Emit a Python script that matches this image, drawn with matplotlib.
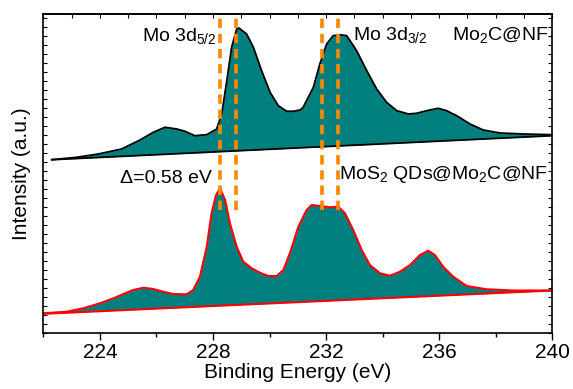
import matplotlib
matplotlib.use("Agg")
import matplotlib.pyplot as plt
import numpy as np

plt.rcParams['font.family'] = ['Liberation Sans', 'DejaVu Sans']
plt.rcParams['mathtext.fontset'] = 'custom'
plt.rcParams['mathtext.rm'] = 'Liberation Sans'
plt.rcParams['mathtext.it'] = 'Liberation Sans'

# Mo2C@NF spectrum (binding energy in eV, intensity a.u.)
e_top = [222.30, 223.18, 223.95, 224.77, 225.42, 225.89, 226.30, 226.72, 227.01,
         227.36, 227.78, 228.13, 228.31, 228.49, 228.66, 228.84, 228.92, 229.19,
         229.43, 229.72, 230.02, 230.31, 230.61, 230.84, 231.08, 231.19, 231.55,
         231.78, 232.02, 232.25, 232.49, 232.73, 233.08, 233.44, 233.79, 234.14,
         234.50, 234.91, 235.20, 235.56, 235.97, 236.26, 236.62, 237.09, 237.56,
         238.15, 238.97, 240.0]
i_top = [173.6, 176.0, 179.3, 184.3, 193.3, 201.0, 206.0, 204.3, 202.0,
         197.6, 198.6, 204.3, 219.3, 252.6, 286.0, 304.3, 305.3, 299.3,
         286.0, 262.6, 241.0, 227.6, 222.0, 222.0, 223.3, 226.0, 246.0,
         269.3, 289.3, 297.6, 298.6, 297.6, 282.6, 262.6, 244.3, 231.0,
         222.6, 219.3, 220.0, 222.6, 225.0, 222.6, 217.6, 209.3, 203.3,
         200.3, 199.3, 198.6]
bg_top_e = [222.30, 240.0]
bg_top_i = [173.6, 197.6]

# MoS2 QDs@Mo2C@NF spectrum
e_bot = [222.0, 222.83, 223.41, 224.0, 224.48, 224.89, 225.18, 225.54, 225.89,
         226.24, 226.60, 227.07, 227.30, 227.54, 227.78, 227.95, 228.11, 228.25,
         228.43, 228.60, 228.84, 229.07, 229.37, 229.66, 229.96, 230.25, 230.49,
         230.72, 231.02, 231.31, 231.49, 231.78, 232.14, 232.43, 232.67, 232.96,
         233.26, 233.55, 233.91, 234.26, 234.61, 234.97, 235.32, 235.61, 235.85,
         236.14, 236.50, 236.97, 237.68, 238.62, 240.0]
i_bot = [20.0, 21.6, 25.0, 30.0, 35.0, 40.0, 43.3, 45.6, 44.3,
         41.6, 39.3, 39.0, 43.3, 56.6, 86.6, 120.0, 138.3, 145.0,
         133.3, 110.0, 86.6, 71.6, 65.0, 60.6, 57.3, 57.3, 63.3,
         80.0, 106.6, 123.3, 128.3, 127.3, 126.0, 126.6, 120.0, 103.3,
         83.3, 68.3, 60.0, 57.6, 61.6, 68.3, 78.3, 82.6, 78.3,
         66.6, 56.6, 47.3, 44.0, 42.8, 42.8]
bg_bot_e = [222.0, 240.0]
bg_bot_i = [19.5, 42.8]

# peak positions of the dashed guides
peaks = [228.25, 228.83, 231.85, 232.43]
guide_low = 123.3

fig = plt.figure(figsize=(5.73, 3.89), dpi=100)
ax = fig.add_axes([43.3 / 573, 1 - 333.3 / 389, (552.3 - 43.3) / 573, (333.3 - 14) / 389])

teal = '#007F7F'
e_top = np.array(e_top)
e_bot = np.array(e_bot)
ax.fill_between(e_top, np.interp(e_top, bg_top_e, bg_top_i), i_top, color=teal, lw=0)
ax.plot(e_top, i_top, color='black', lw=1.3)
ax.plot(bg_top_e, bg_top_i, color='black', lw=1.3)

ax.fill_between(e_bot, np.interp(e_bot, bg_bot_e, bg_bot_i), i_bot, color=teal, lw=0)
ax.plot(e_bot, i_bot, color='red', lw=1.5)
ax.plot(bg_bot_e, bg_bot_i, color='red', lw=1.5)

for p in peaks:
    ax.plot([p, p], [guide_low, 319.3], color='#FF8800', lw=2.6,
            ls=(0, (2.6, 1.6)), zorder=5, solid_capstyle='butt')

ax.set_xlim(222, 240)
ax.set_ylim(0, 319.3)

fs = 14
ax.text(228.12, 292.6, 'Mo 3d$_{5/2}$', fontsize=fs, ha='right', va='baseline')
ax.text(232.96, 293.3, 'Mo 3d$_{3/2}$', fontsize=fs, ha='left', va='baseline')
ax.text(239.86, 293.3, 'Mo$_2$C@NF', fontsize=fs, ha='right', va='baseline')
ax.text(239.86, 154.3, 'MoS$_2$ QDs@Mo$_2$C@NF', fontsize=fs, ha='right', va='baseline')
ax.text(224.71, 150.0, '\u0394=0.58 eV', fontsize=fs, ha='left', va='baseline')

ax.set_xticks([224, 228, 232, 236, 240])
ax.set_xticks(np.arange(222, 241, 2), minor=True)
ax.tick_params(axis='x', which='major', direction='out', length=5, width=1, labelsize=15, pad=2)
ax.tick_params(axis='x', which='minor', direction='out', length=3, width=1)
ax.set_yticks(np.arange(0, 320, 9))
ax.tick_params(axis='y', which='both', direction='in', length=3, width=0.8,
               left=True, right=True, labelleft=False)

top = ax.secondary_xaxis('top')
top.set_xticks(np.arange(222, 241, 1))
top.tick_params(direction='in', length=3, width=0.8, labeltop=False)

for s in ax.spines.values():
    s.set_linewidth(1.2)
top.spines['top'].set_linewidth(1.2)

ax.set_xlabel('Binding Energy (eV)', fontsize=15, labelpad=1)
ax.set_ylabel('Intensity (a.u.)', fontsize=15, labelpad=9)

fig.savefig('out.png', dpi=100)
